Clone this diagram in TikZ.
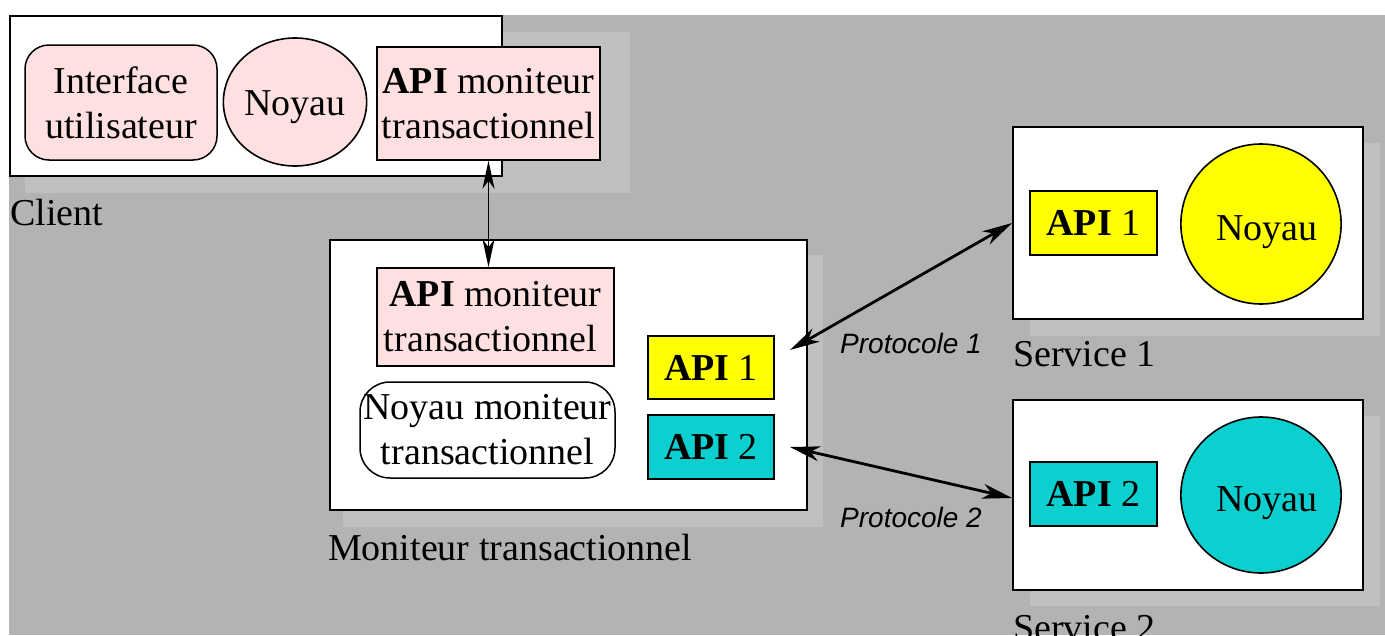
\documentclass[tikz,border=0pt]{standalone}
\usepackage{fontspec}
\setmainfont{Liberation Serif}
\newfontfamily\protofont{Liberation Sans}
\usetikzlibrary{shapes.geometric,arrows.meta}

\definecolor{bggray}{RGB}{179,179,179}
\definecolor{shadowgray}{RGB}{191,191,191}
\definecolor{apipink}{RGB}{255,224,224}
\definecolor{apiyellow}{RGB}{255,255,0}
\definecolor{apicyan}{RGB}{12,208,208}

% lower a label inside its shape without changing the box dimensions
\newcommand{\lowered}[2]{\raisebox{-#1}[\height][\depth]{#2}}
\newcommand{\kerneltext}{\hspace*{12pt}\lowered{8pt}{Noyau}}

\tikzset{
  txt/.style={font=\fontsize{38}{45}\selectfont, align=center, inner sep=0pt},
  frame/.style={draw=black, line width=1.8pt, fill=white, inner sep=0pt},
  part/.style={txt, draw=black, line width=1.5pt},
  roundpart/.style={part, rounded corners=24pt},
  blob/.style={txt, ellipse, draw=black, line width=1.6pt},
  caption/.style={txt, anchor=west},
  proto/.style={font=\protofont\itshape\fontsize{28}{32}\selectfont, inner sep=0pt},
  link/.style={draw=black, line width=1.6pt,
    {Stealth[length=28pt,width=12pt,inset=8pt]}-{Stealth[length=28pt,width=12pt,inset=8pt]}},
  thicklink/.style={draw=black, line width=2.8pt,
    {Stealth[length=30pt,width=15pt,inset=9pt]}-{Stealth[length=30pt,width=15pt,inset=9pt]}}
}

\begin{document}
\begin{tikzpicture}[x=1pt,y=-1pt]
  % page and grey canvas
  \fill[white] (0,0) rectangle (1385,635);
  \fill[bggray] (9,15) rectangle (1385,635);
  \useasboundingbox (0,0) rectangle (1385,635);

  % drop shadows
  \fill[shadowgray] (25,32) rectangle (630,193);
  \fill[shadowgray] (343,255) rectangle (823,527);
  \fill[shadowgray] (1030,143) rectangle (1380,336);
  \fill[shadowgray] (1030,416) rectangle (1380,606);

  % Client
  \node[frame, minimum width=492pt, minimum height=160pt] (client) at (256,96) {};
  \node[roundpart, fill=apipink, minimum width=192pt, minimum height=115pt] (ui) at (121,102.5)
    {Interface\\utilisateur};
  \node[blob, fill=apipink, minimum width=130pt, minimum height=128pt] (noyc) at (295,102) {\lowered{5pt}{Noyau}};
  \node[part, fill=apipink, minimum width=223pt, minimum height=113pt] (apic) at (488.5,103.5)
    {\textbf{API} moniteur\\transactionnel};
  \node[caption] (lclient) at (10,212) {Client};

  % Moniteur transactionnel
  \node[frame, minimum width=477pt, minimum height=270pt] (mon) at (568.5,375) {};
  \node[part, fill=apipink, minimum width=237pt, minimum height=98pt] (apim) at (495.5,317)
    {\textbf{API} moniteur\\transactionnel\hspace*{10pt}};
  \node[roundpart, rounded corners=30pt, fill=white, minimum width=255pt, minimum height=96pt] (noym) at (487.5,430)
    {Noyau moniteur\\transactionnel};
  \node[part, fill=apiyellow, minimum width=126pt, minimum height=63pt] (apim1) at (711,367.5) {\textbf{API} 1};
  \node[part, fill=apicyan, minimum width=126pt, minimum height=64pt] (apim2) at (711,447) {\textbf{API} 2};
  \node[caption] (lmon) at (328,547) {Moniteur transactionnel};

  % Service 1
  \node[frame, minimum width=350pt, minimum height=192pt] (s1) at (1188,223) {};
  \node[part, fill=apiyellow, minimum width=127pt, minimum height=64pt] (s1api) at (1093.5,223) {\textbf{API} 1};
  \node[blob, fill=apiyellow, minimum width=158pt, minimum height=160pt] (s1noy) at (1261,224) {\kerneltext};
  \node[caption] (ls1) at (1013,354) {Service 1};

  % Service 2
  \node[frame, minimum width=350pt, minimum height=190pt] (s2) at (1188,495) {};
  \node[part, fill=apicyan, minimum width=127pt, minimum height=64pt] (s2api) at (1093.5,494) {\textbf{API} 2};
  \node[blob, fill=apicyan, minimum width=158pt, minimum height=156pt] (s2noy) at (1261,495) {\kerneltext};
  \node[caption] (ls2) at (1013,628) {Service 2};

  % connectors
  \coordinate (p1) at (790,350);
  \coordinate (p2) at (790,447);
  \draw[link] (apic.south) -- (apic.south |- apim.north);
  \draw[thicklink] (p1) -- (s1.west);
  \draw[thicklink] (p2) -- ([yshift=-3pt]s2.west);
  \node[proto] (proto1) at (911,343) {Protocole 1};
  \node[proto] (proto2) at (911,517) {Protocole 2};
\end{tikzpicture}
\end{document}
